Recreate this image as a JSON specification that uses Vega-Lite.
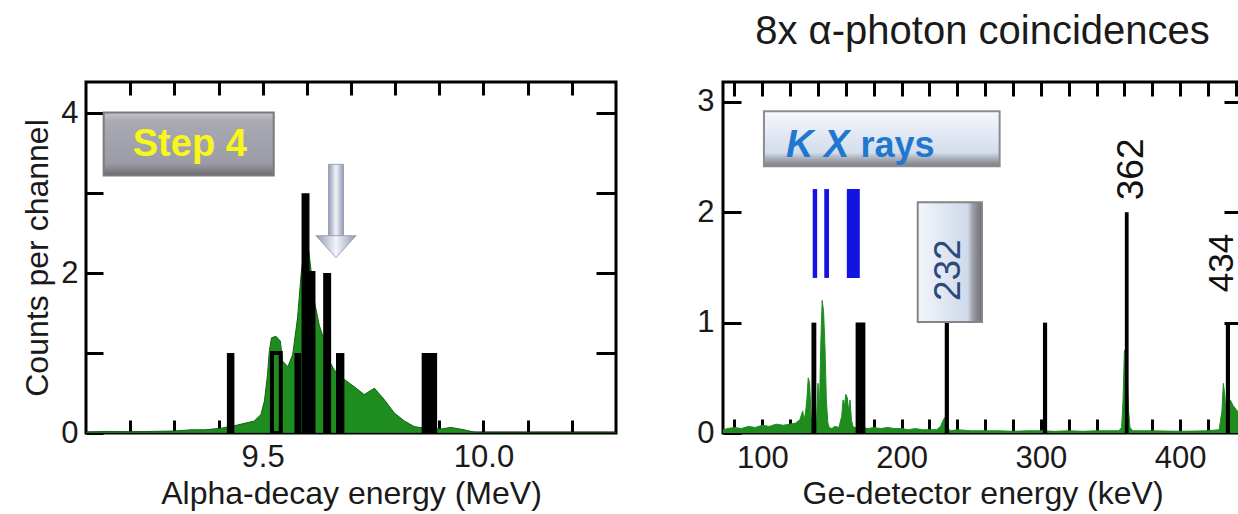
{
  "$schema": "https://vega.github.io/schema/vega-lite/v6.json",
  "background": "white",
  "padding": {"left": 20, "top": 10, "right": -4, "bottom": 0},
  "bounds": "flush",
  "spacing": 107,
  "config": {
    "font": "Liberation Sans",
    "view": {"stroke": "#000000", "strokeWidth": 3},
    "axis": {
      "domain": false,
      "grid": false,
      "tickColor": "#000000",
      "tickWidth": 3,
      "labelFont": "Liberation Sans",
      "labelFontSize": 31,
      "labelColor": "#1a1a1a",
      "labelFlush": false,
      "labelOverlap": false,
      "titleFont": "Liberation Sans",
      "titleFontSize": 32,
      "titleFontWeight": "normal",
      "titleColor": "#1a1a1a"
    },
    "title": {"font": "Liberation Sans", "fontSize": 40, "fontWeight": "normal", "color": "#1a1a1a"}
  },
  "datasets": {
    "alpha_spectrum": [
      {"energy": 9.10, "counts": 0.01}, {"energy": 9.15, "counts": 0.02}, {"energy": 9.20, "counts": 0.015},
      {"energy": 9.25, "counts": 0.02}, {"energy": 9.30, "counts": 0.025}, {"energy": 9.338, "counts": 0.04},
      {"energy": 9.37, "counts": 0.04}, {"energy": 9.406, "counts": 0.06}, {"energy": 9.443, "counts": 0.10},
      {"energy": 9.481, "counts": 0.15}, {"energy": 9.496, "counts": 0.23}, {"energy": 9.504, "counts": 0.40},
      {"energy": 9.511, "counts": 0.73}, {"energy": 9.515, "counts": 1.02}, {"energy": 9.520, "counts": 1.19},
      {"energy": 9.530, "counts": 1.21}, {"energy": 9.540, "counts": 1.15}, {"energy": 9.545, "counts": 0.90},
      {"energy": 9.557, "counts": 0.83}, {"energy": 9.568, "counts": 0.98}, {"energy": 9.579, "counts": 1.44},
      {"energy": 9.587, "counts": 1.98}, {"energy": 9.596, "counts": 2.40}, {"energy": 9.602, "counts": 2.38},
      {"energy": 9.609, "counts": 2.06}, {"energy": 9.617, "counts": 1.65}, {"energy": 9.628, "counts": 1.35},
      {"energy": 9.640, "counts": 1.15}, {"energy": 9.651, "counts": 0.90}, {"energy": 9.662, "counts": 0.79},
      {"energy": 9.685, "counts": 0.67}, {"energy": 9.707, "counts": 0.58}, {"energy": 9.730, "counts": 0.48},
      {"energy": 9.753, "counts": 0.56}, {"energy": 9.775, "counts": 0.42}, {"energy": 9.798, "counts": 0.25},
      {"energy": 9.821, "counts": 0.15}, {"energy": 9.843, "counts": 0.08}, {"energy": 9.866, "counts": 0.06},
      {"energy": 9.904, "counts": 0.05}, {"energy": 9.926, "counts": 0.07}, {"energy": 9.956, "counts": 0.04},
      {"energy": 9.979, "counts": 0.01}, {"energy": 9.994, "counts": 0.0}, {"energy": 10.30, "counts": 0.0}
    ],
    "alpha_events": [
      {"e_lo": 9.419, "e_hi": 9.436, "counts": 1},
      {"e_lo": 9.572, "e_hi": 9.587, "counts": 1},
      {"e_lo": 9.588, "e_hi": 9.606, "counts": 3},
      {"e_lo": 9.637, "e_hi": 9.655, "counts": 2},
      {"e_lo": 9.666, "e_hi": 9.685, "counts": 1},
      {"e_lo": 9.860, "e_hi": 9.895, "counts": 1}
    ],
    "alpha_events_open": [
      {"e_lo": 9.521, "e_hi": 9.541, "counts": 1},
      {"e_lo": 9.606, "e_hi": 9.615, "counts": 2}
    ],
    "step_box": [{"x0": 9.14, "x1": 9.525, "y0": 3.22, "y1": 4.01}],
    "step_label": [{"x": 9.335, "y": 3.6, "text": "Step 4"}],
    "arrow_shaft": [{"x0": 9.649, "x1": 9.683, "y0": 2.43, "y1": 3.36}],
    "arrow_head": [{"x": 9.666, "y": 2.33}],
    "ge_spectrum": [
      {"energy": 71.8, "counts": 0.03}, {"energy": 75, "counts": 0.04}, {"energy": 80, "counts": 0.05},
      {"energy": 85, "counts": 0.04}, {"energy": 90, "counts": 0.06}, {"energy": 95, "counts": 0.05},
      {"energy": 100, "counts": 0.07}, {"energy": 105, "counts": 0.06}, {"energy": 110, "counts": 0.08},
      {"energy": 115, "counts": 0.07}, {"energy": 120, "counts": 0.08}, {"energy": 124, "counts": 0.09},
      {"energy": 127, "counts": 0.12}, {"energy": 129, "counts": 0.2}, {"energy": 130, "counts": 0.12},
      {"energy": 131, "counts": 0.18}, {"energy": 132, "counts": 0.3}, {"energy": 133, "counts": 0.5},
      {"energy": 134, "counts": 0.45}, {"energy": 135, "counts": 0.15}, {"energy": 136, "counts": 0.05},
      {"energy": 137, "counts": 0.1}, {"energy": 138, "counts": 0.05}, {"energy": 139, "counts": 0.1},
      {"energy": 140, "counts": 0.45}, {"energy": 141, "counts": 0.2}, {"energy": 142, "counts": 0.8},
      {"energy": 143, "counts": 1.2}, {"energy": 144, "counts": 1.1}, {"energy": 145, "counts": 0.78},
      {"energy": 146, "counts": 0.3}, {"energy": 147, "counts": 0.1}, {"energy": 148, "counts": 0.05},
      {"energy": 150, "counts": 0.04}, {"energy": 152, "counts": 0.06}, {"energy": 155, "counts": 0.05},
      {"energy": 157, "counts": 0.15}, {"energy": 158, "counts": 0.3}, {"energy": 159, "counts": 0.25},
      {"energy": 160, "counts": 0.35}, {"energy": 161, "counts": 0.32}, {"energy": 162, "counts": 0.2},
      {"energy": 163, "counts": 0.3}, {"energy": 164, "counts": 0.12}, {"energy": 165, "counts": 0.06},
      {"energy": 168, "counts": 0.04}, {"energy": 172, "counts": 0.05}, {"energy": 176, "counts": 0.04},
      {"energy": 180, "counts": 0.05}, {"energy": 185, "counts": 0.04}, {"energy": 190, "counts": 0.05},
      {"energy": 195, "counts": 0.04}, {"energy": 200, "counts": 0.04}, {"energy": 205, "counts": 0.03},
      {"energy": 210, "counts": 0.04}, {"energy": 215, "counts": 0.03}, {"energy": 220, "counts": 0.03},
      {"energy": 225, "counts": 0.03}, {"energy": 228, "counts": 0.06}, {"energy": 230, "counts": 0.12},
      {"energy": 231, "counts": 0.14}, {"energy": 232, "counts": 0.1}, {"energy": 233, "counts": 0.05},
      {"energy": 235, "counts": 0.02}, {"energy": 240, "counts": 0.03}, {"energy": 250, "counts": 0.02},
      {"energy": 260, "counts": 0.02}, {"energy": 270, "counts": 0.02}, {"energy": 280, "counts": 0.015},
      {"energy": 290, "counts": 0.02}, {"energy": 300, "counts": 0.02}, {"energy": 310, "counts": 0.015},
      {"energy": 320, "counts": 0.02}, {"energy": 330, "counts": 0.015}, {"energy": 340, "counts": 0.02},
      {"energy": 350, "counts": 0.02}, {"energy": 356, "counts": 0.02}, {"energy": 358, "counts": 0.05},
      {"energy": 359, "counts": 0.3}, {"energy": 360, "counts": 0.75}, {"energy": 361, "counts": 0.6},
      {"energy": 362, "counts": 0.5}, {"energy": 363, "counts": 0.2}, {"energy": 364, "counts": 0.05},
      {"energy": 366, "counts": 0.02}, {"energy": 380, "counts": 0.02}, {"energy": 400, "counts": 0.015},
      {"energy": 420, "counts": 0.02}, {"energy": 428, "counts": 0.03}, {"energy": 430, "counts": 0.2},
      {"energy": 431, "counts": 0.45}, {"energy": 432, "counts": 0.35}, {"energy": 433, "counts": 0.15},
      {"energy": 434, "counts": 0.05}, {"energy": 436, "counts": 0.3}, {"energy": 438, "counts": 0.25},
      {"energy": 441, "counts": 0.2}, {"energy": 444.4, "counts": 0.1}
    ],
    "ge_events": [
      {"e_lo": 135.3, "e_hi": 138.8, "counts": 1},
      {"e_lo": 167.0, "e_hi": 174.0, "counts": 1},
      {"e_lo": 231.0, "e_hi": 234.0, "counts": 1},
      {"e_lo": 301.5, "e_hi": 304.5, "counts": 1},
      {"e_lo": 360.3, "e_hi": 363.0, "counts": 2},
      {"e_lo": 432.8, "e_hi": 435.8, "counts": 1}
    ],
    "kx_lines": [
      {"e_lo": 136.2, "e_hi": 139.4, "y_lo": 1.405, "y_hi": 2.21},
      {"e_lo": 144.5, "e_hi": 147.9, "y_lo": 1.405, "y_hi": 2.21},
      {"e_lo": 160.7, "e_hi": 170.0, "y_lo": 1.405, "y_hi": 2.21}
    ],
    "kx_box": [{"x0": 101.2, "x1": 270.4, "y0": 2.416, "y1": 2.915}],
    "kx_italic": [{"x": 117, "y": 2.6, "text": "K X"}],
    "kx_plain": [{"x": 170.5, "y": 2.6, "text": "rays"}],
    "box_232": [{"x0": 211.6, "x1": 257.7, "y0": 1.006, "y1": 2.09}],
    "label_232": [{"x": 234.2, "y": 1.475, "text": "232"}],
    "label_362": [{"x": 365.1, "y": 2.388, "text": "362"}],
    "label_434": [{"x": 429.8, "y": 1.54, "text": "434"}]
  },
  "hconcat": [
    {
      "width": 530,
      "height": 351,
      "layer": [
        {
          "data": {"name": "alpha_spectrum"},
          "mark": {"type": "area", "interpolate": "linear", "fill": "#1e8c1e", "stroke": "#0f640f", "strokeWidth": 1, "clip": true},
          "encoding": {
            "x": {
              "field": "energy", "type": "quantitative",
              "scale": {"domain": [9.1, 10.3], "nice": false, "zero": false},
              "axis": {
                "orient": "bottom",
                "values": [9.2, 9.3, 9.4, 9.5, 9.6, 9.7, 9.8, 9.9, 10.0, 10.1, 10.2],
                "labelExpr": "abs(datum.value - 9.5) < 0.001 || abs(datum.value - 10) < 0.001 ? format(datum.value, '.1f') : ''",
                "tickSize": -13,
                "labelPadding": 22,
                "title": "Alpha-decay energy (MeV)",
                "titlePadding": 6
              }
            },
            "y": {
              "field": "counts", "type": "quantitative", "stack": null,
              "scale": {"domain": [0, 4.39], "nice": false, "zero": false},
              "axis": {
                "orient": "left",
                "values": [0, 1, 2, 3, 4],
                "labelExpr": "datum.value % 2 === 0 ? datum.label : ''",
                "tickSize": -17,
                "labelPadding": 25,
                "title": "Counts per channel",
                "titlePadding": 6
              }
            }
          }
        },
        {
          "data": {"name": "alpha_events"},
          "mark": {"type": "rect", "color": "#000000", "clip": true},
          "encoding": {
            "x": {
              "field": "e_lo", "type": "quantitative",
              "scale": {"domain": [9.1, 10.3], "nice": false, "zero": false},
              "axis": {
                "orient": "top",
                "values": [9.2, 9.3, 9.4, 9.5, 9.6, 9.7, 9.8, 9.9, 10.0, 10.1, 10.2],
                "labels": false,
                "tickSize": -13,
                "title": null
              }
            },
            "x2": {"field": "e_hi"},
            "y": {
              "field": "counts", "type": "quantitative",
              "scale": {"domain": [0, 4.39], "nice": false, "zero": false},
              "axis": {"orient": "right", "values": [1, 2, 3, 4], "labels": false, "tickSize": -20, "title": null}
            },
            "y2": {"datum": 0}
          }
        },
        {
          "data": {"name": "alpha_events_open"},
          "mark": {"type": "rect", "filled": false, "stroke": "#000000", "strokeWidth": 4, "clip": true},
          "encoding": {
            "x": {"field": "e_lo", "type": "quantitative", "scale": {"domain": [9.1, 10.3], "nice": false, "zero": false}, "axis": null},
            "x2": {"field": "e_hi"},
            "y": {"field": "counts", "type": "quantitative", "scale": {"domain": [0, 4.39], "nice": false, "zero": false}, "axis": null},
            "y2": {"datum": 0}
          }
        },
        {
          "data": {"name": "step_box"},
          "mark": {
            "type": "rect",
            "fill": {"gradient": "linear", "x1": 0, "y1": 0, "x2": 0, "y2": 1,
              "stops": [{"offset": 0, "color": "#c2c2ca"}, {"offset": 0.15, "color": "#a9a9b3"}, {"offset": 0.8, "color": "#9c9ca6"}, {"offset": 0.9, "color": "#85858b"}, {"offset": 1, "color": "#6a6a6e"}]},
            "stroke": "#7a7a7e", "strokeWidth": 2
          },
          "encoding": {
            "x": {"field": "x0", "type": "quantitative", "scale": {"domain": [9.1, 10.3], "nice": false, "zero": false}, "axis": null},
            "x2": {"field": "x1"},
            "y": {"field": "y0", "type": "quantitative", "scale": {"domain": [0, 4.39], "nice": false, "zero": false}, "axis": null},
            "y2": {"field": "y1"}
          }
        },
        {
          "data": {"name": "step_label"},
          "mark": {"type": "text", "font": "Liberation Sans", "fontSize": 38, "fontWeight": "bold", "color": "#f7f71a", "align": "center", "baseline": "middle"},
          "encoding": {
            "x": {"field": "x", "type": "quantitative", "scale": {"domain": [9.1, 10.3], "nice": false, "zero": false}, "axis": null},
            "y": {"field": "y", "type": "quantitative", "scale": {"domain": [0, 4.39], "nice": false, "zero": false}, "axis": null},
            "text": {"field": "text"}
          }
        },
        {
          "data": {"name": "arrow_shaft"},
          "mark": {
            "type": "rect",
            "fill": {"gradient": "linear", "x1": 0, "y1": 0, "x2": 1, "y2": 0,
              "stops": [{"offset": 0, "color": "#8f99b3"}, {"offset": 0.5, "color": "#f3f5fb"}, {"offset": 1, "color": "#8f99b3"}]},
            "stroke": "#9aa2b8", "strokeWidth": 1
          },
          "encoding": {
            "x": {"field": "x0", "type": "quantitative", "scale": {"domain": [9.1, 10.3], "nice": false, "zero": false}, "axis": null},
            "x2": {"field": "x1"},
            "y": {"field": "y0", "type": "quantitative", "scale": {"domain": [0, 4.39], "nice": false, "zero": false}, "axis": null},
            "y2": {"field": "y1"}
          }
        },
        {
          "data": {"name": "arrow_head"},
          "mark": {
            "type": "point",
            "shape": "M-1,-0.55L1,-0.55L0,0.55Z",
            "size": 1600,
            "filled": true,
            "opacity": 1,
            "fill": {"gradient": "linear", "x1": 0, "y1": 0, "x2": 1, "y2": 0,
              "stops": [{"offset": 0, "color": "#8f99b3"}, {"offset": 0.5, "color": "#f3f5fb"}, {"offset": 1, "color": "#8f99b3"}]},
            "stroke": "#9aa2b8", "strokeWidth": 1
          },
          "encoding": {
            "x": {"field": "x", "type": "quantitative", "scale": {"domain": [9.1, 10.3], "nice": false, "zero": false}, "axis": null},
            "y": {"field": "y", "type": "quantitative", "scale": {"domain": [0, 4.39], "nice": false, "zero": false}, "axis": null}
          }
        }
      ]
    },
    {
      "width": 519,
      "height": 351,
      "title": {"text": "8x α-photon coincidences", "anchor": "middle", "offset": 29},
      "layer": [
        {
          "data": {"name": "ge_spectrum"},
          "mark": {"type": "area", "interpolate": "linear", "fill": "#1e8c1e", "stroke": "#1e8c1e", "strokeWidth": 1, "clip": true},
          "encoding": {
            "x": {
              "field": "energy", "type": "quantitative",
              "scale": {"domain": [71.8, 444.4], "nice": false, "zero": false},
              "axis": {
                "orient": "bottom",
                "values": [80, 100, 120, 140, 160, 180, 200, 220, 240, 260, 280, 300, 320, 340, 360, 380, 400, 420, 440],
                "labelExpr": "datum.value % 100 === 0 ? datum.label : ''",
                "tickSize": -14,
                "labelPadding": 24,
                "title": "Ge-detector energy (keV)",
                "titlePadding": 5
              }
            },
            "y": {
              "field": "counts", "type": "quantitative", "stack": null,
              "scale": {"domain": [0, 3.18], "nice": false, "zero": false},
              "axis": {"orient": "left", "values": [0, 1, 2, 3], "tickSize": -18, "labelPadding": 27, "title": null}
            }
          }
        },
        {
          "data": {"name": "ge_events"},
          "mark": {"type": "rect", "color": "#000000", "clip": true},
          "encoding": {
            "x": {
              "field": "e_lo", "type": "quantitative",
              "scale": {"domain": [71.8, 444.4], "nice": false, "zero": false},
              "axis": {
                "orient": "top",
                "values": [80, 100, 120, 140, 160, 180, 200, 220, 240, 260, 280, 300, 320, 340, 360, 380, 400, 420, 440],
                "labels": false,
                "tickSize": -14,
                "title": null
              }
            },
            "x2": {"field": "e_hi"},
            "y": {
              "field": "counts", "type": "quantitative",
              "scale": {"domain": [0, 3.18], "nice": false, "zero": false},
              "axis": {"orient": "right", "values": [1, 2, 3], "labels": false, "tickSize": -18, "title": null}
            },
            "y2": {"datum": 0}
          }
        },
        {
          "data": {"name": "kx_lines"},
          "mark": {"type": "rect", "color": "#1414e0"},
          "encoding": {
            "x": {"field": "e_lo", "type": "quantitative", "scale": {"domain": [71.8, 444.4], "nice": false, "zero": false}, "axis": null},
            "x2": {"field": "e_hi"},
            "y": {"field": "y_lo", "type": "quantitative", "scale": {"domain": [0, 3.18], "nice": false, "zero": false}, "axis": null},
            "y2": {"field": "y_hi"}
          }
        },
        {
          "data": {"name": "kx_box"},
          "mark": {
            "type": "rect",
            "fill": {"gradient": "linear", "x1": 0, "y1": 0, "x2": 0, "y2": 1,
              "stops": [{"offset": 0, "color": "#f5f8fd"}, {"offset": 0.75, "color": "#d3ddec"}, {"offset": 0.86, "color": "#a9aeb8"}, {"offset": 1, "color": "#7c7c80"}]},
            "stroke": "#8c8c90", "strokeWidth": 2
          },
          "encoding": {
            "x": {"field": "x0", "type": "quantitative", "scale": {"domain": [71.8, 444.4], "nice": false, "zero": false}, "axis": null},
            "x2": {"field": "x1"},
            "y": {"field": "y0", "type": "quantitative", "scale": {"domain": [0, 3.18], "nice": false, "zero": false}, "axis": null},
            "y2": {"field": "y1"}
          }
        },
        {
          "data": {"name": "kx_italic"},
          "mark": {"type": "text", "font": "Liberation Sans", "fontSize": 38, "fontWeight": "bold", "fontStyle": "italic", "color": "#1f77d0", "align": "left", "baseline": "middle"},
          "encoding": {
            "x": {"field": "x", "type": "quantitative", "scale": {"domain": [71.8, 444.4], "nice": false, "zero": false}, "axis": null},
            "y": {"field": "y", "type": "quantitative", "scale": {"domain": [0, 3.18], "nice": false, "zero": false}, "axis": null},
            "text": {"field": "text"}
          }
        },
        {
          "data": {"name": "kx_plain"},
          "mark": {"type": "text", "font": "Liberation Sans", "fontSize": 36, "fontWeight": "bold", "color": "#1f77d0", "align": "left", "baseline": "middle"},
          "encoding": {
            "x": {"field": "x", "type": "quantitative", "scale": {"domain": [71.8, 444.4], "nice": false, "zero": false}, "axis": null},
            "y": {"field": "y", "type": "quantitative", "scale": {"domain": [0, 3.18], "nice": false, "zero": false}, "axis": null},
            "text": {"field": "text"}
          }
        },
        {
          "data": {"name": "box_232"},
          "mark": {
            "type": "rect",
            "fill": {"gradient": "linear", "x1": 0, "y1": 0, "x2": 1, "y2": 0,
              "stops": [{"offset": 0, "color": "#f3f6fc"}, {"offset": 0.78, "color": "#cfd9ea"}, {"offset": 0.86, "color": "#9a9ca4"}, {"offset": 1, "color": "#6f6f73"}]},
            "stroke": "#858589", "strokeWidth": 2
          },
          "encoding": {
            "x": {"field": "x0", "type": "quantitative", "scale": {"domain": [71.8, 444.4], "nice": false, "zero": false}, "axis": null},
            "x2": {"field": "x1"},
            "y": {"field": "y0", "type": "quantitative", "scale": {"domain": [0, 3.18], "nice": false, "zero": false}, "axis": null},
            "y2": {"field": "y1"}
          }
        },
        {
          "data": {"name": "label_232"},
          "mark": {"type": "text", "font": "Liberation Sans", "fontSize": 37, "color": "#2b4a7c", "align": "center", "baseline": "middle", "angle": 270},
          "encoding": {
            "x": {"field": "x", "type": "quantitative", "scale": {"domain": [71.8, 444.4], "nice": false, "zero": false}, "axis": null},
            "y": {"field": "y", "type": "quantitative", "scale": {"domain": [0, 3.18], "nice": false, "zero": false}, "axis": null},
            "text": {"field": "text"}
          }
        },
        {
          "data": {"name": "label_362"},
          "mark": {"type": "text", "font": "Liberation Sans", "fontSize": 37, "color": "#111111", "align": "center", "baseline": "middle", "angle": 270},
          "encoding": {
            "x": {"field": "x", "type": "quantitative", "scale": {"domain": [71.8, 444.4], "nice": false, "zero": false}, "axis": null},
            "y": {"field": "y", "type": "quantitative", "scale": {"domain": [0, 3.18], "nice": false, "zero": false}, "axis": null},
            "text": {"field": "text"}
          }
        },
        {
          "data": {"name": "label_434"},
          "mark": {"type": "text", "font": "Liberation Sans", "fontSize": 35, "color": "#111111", "align": "center", "baseline": "middle", "angle": 270},
          "encoding": {
            "x": {"field": "x", "type": "quantitative", "scale": {"domain": [71.8, 444.4], "nice": false, "zero": false}, "axis": null},
            "y": {"field": "y", "type": "quantitative", "scale": {"domain": [0, 3.18], "nice": false, "zero": false}, "axis": null},
            "text": {"field": "text"}
          }
        }
      ]
    }
  ]
}
